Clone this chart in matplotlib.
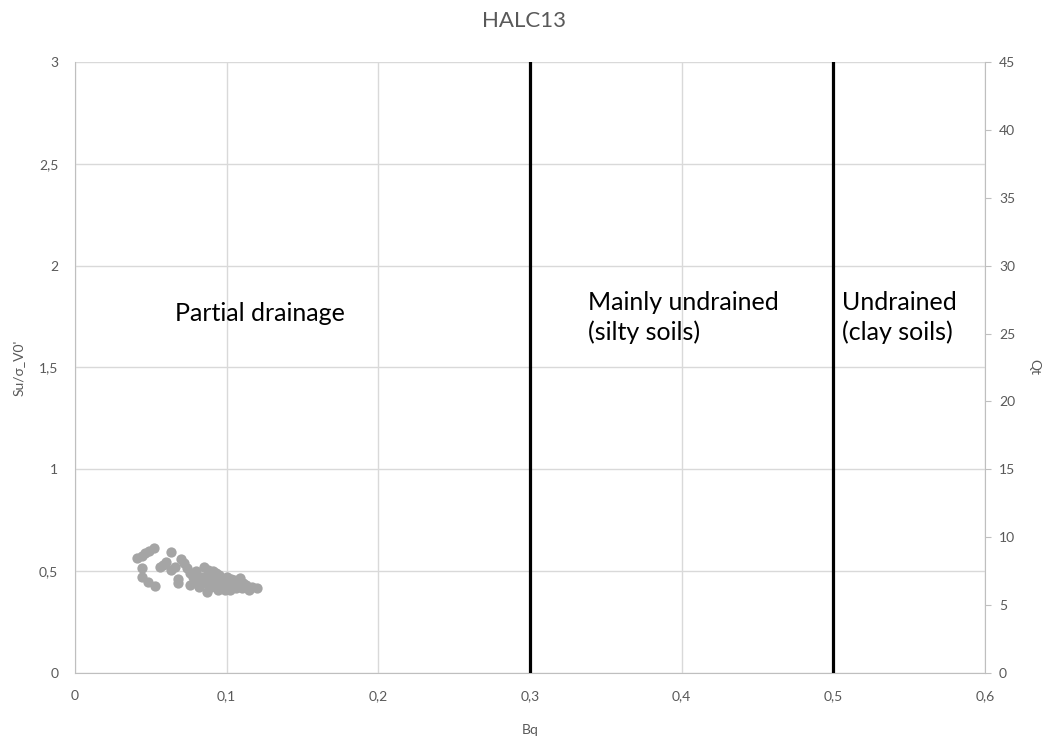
import matplotlib.pyplot as plt
from matplotlib.ticker import FuncFormatter

# Bq vs normalised undrained strength, HALC13 CPT
bq = [0.041, 0.044, 0.046, 0.049, 0.052, 0.044, 0.044, 0.048, 0.053,
      0.056, 0.058, 0.060, 0.063, 0.063, 0.066, 0.068, 0.070, 0.072,
      0.074, 0.076, 0.076, 0.078, 0.080, 0.082, 0.083, 0.085, 0.086,
      0.087, 0.088, 0.089, 0.090, 0.091, 0.092, 0.093, 0.094, 0.095,
      0.096, 0.097, 0.098, 0.099, 0.100, 0.101, 0.102, 0.103, 0.104,
      0.105, 0.106, 0.107, 0.108, 0.109, 0.110, 0.111, 0.112, 0.113,
      0.114, 0.115, 0.117, 0.120, 0.068, 0.079, 0.084, 0.091, 0.097]
su_sv0 = [0.563, 0.575, 0.588, 0.600, 0.615, 0.514, 0.473, 0.448, 0.427,
          0.522, 0.530, 0.545, 0.596, 0.506, 0.520, 0.440, 0.558, 0.540,
          0.514, 0.490, 0.432, 0.473, 0.500, 0.424, 0.460, 0.522, 0.440,
          0.400, 0.506, 0.470, 0.420, 0.500, 0.445, 0.490, 0.410, 0.480,
          0.440, 0.465, 0.420, 0.407, 0.473, 0.440, 0.410, 0.460, 0.430,
          0.455, 0.416, 0.445, 0.425, 0.465, 0.415, 0.440, 0.420, 0.432,
          0.415, 0.410, 0.420, 0.416, 0.460, 0.455, 0.470, 0.455, 0.450]

# drainage class boundaries
boundaries = [0.3, 0.5]

dec = FuncFormatter(lambda v, p: ('%g' % v).replace('.', ','))

plt.rcParams['font.family'] = ['Lato', 'DejaVu Sans']
fig = plt.figure(figsize=(10.47, 7.44), dpi=100)
ax = fig.add_axes([0.0716, 0.0954, 0.8692, 0.8213])

ax.scatter(bq, su_sv0, s=55, color='#a5a5a5', zorder=3, linewidths=0)
for b in boundaries:
    ax.plot([b, b], [0, 3], color='black', lw=2.3, zorder=4)

ax.set_xlim(0, 0.6)
ax.set_ylim(0, 3)
ax.set_xticks([0, 0.1, 0.2, 0.3, 0.4, 0.5, 0.6])
ax.set_yticks([0, 0.5, 1, 1.5, 2, 2.5, 3])
ax.xaxis.set_major_formatter(dec)
ax.yaxis.set_major_formatter(dec)
ax.grid(True, color='#d9d9d9', lw=1)
ax.set_axisbelow(True)
for s in ['top', 'right']:
    ax.spines[s].set_visible(False)
for s in ['left', 'bottom']:
    ax.spines[s].set_color('#bfbfbf')
ax.tick_params(length=0, labelsize=10, labelcolor='#595959', pad=12)
ax.set_xlabel('Bq', fontsize=10, color='#595959', labelpad=16)
ax.set_ylabel("Su/σ_V0'", fontsize=10, color='#595959', labelpad=10)

ax2 = ax.twinx()
ax2.set_ylim(0, 45)
ax2.set_yticks(range(0, 46, 5))
for s in ['top', 'left', 'bottom']:
    ax2.spines[s].set_visible(False)
ax2.spines['right'].set_color('#bfbfbf')
ax2.tick_params(length=4, color='#bfbfbf', labelsize=10, labelcolor='#595959', pad=6)
ax2.set_ylabel('Qt', fontsize=10, color='#595959', rotation=-90, labelpad=18)

ax.text(0.066, 1.765, 'Partial drainage', fontsize=18, va='center')
ax.text(0.338, 1.745, 'Mainly undrained\n(silty soils)', fontsize=18, va='center',
        linespacing=1.35)
ax.text(0.506, 1.745, 'Undrained\n(clay soils)', fontsize=18, va='center',
        linespacing=1.35)

fig.suptitle('HALC13', x=0.5, y=0.985, fontsize=16, color='#595959')
fig.savefig('out.png', dpi=100)
